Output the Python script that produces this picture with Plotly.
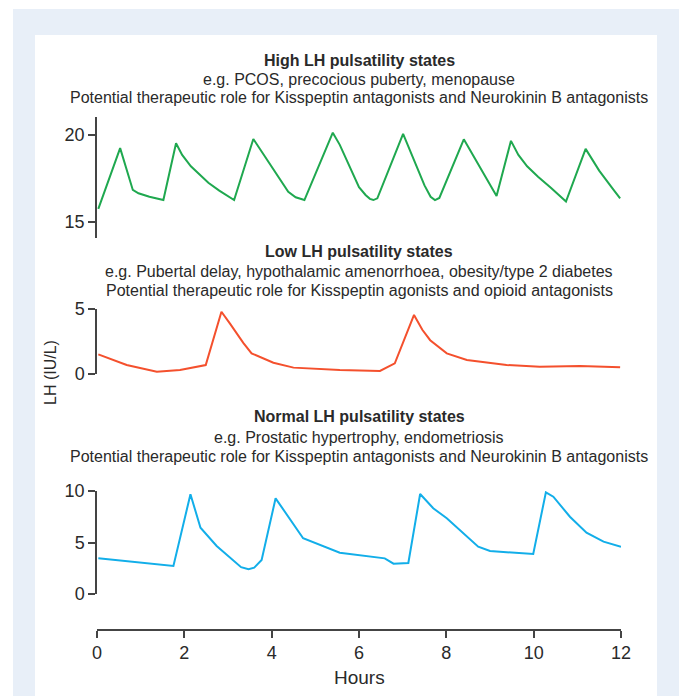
import plotly.graph_objects as go

W, H = 679, 696

# ---- data (hours, LH IU/L) ----
high_hours = [0.03, 0.53, 0.82, 0.95, 1.2, 1.52, 1.81, 1.95, 2.15, 2.35, 2.55, 2.8, 3.14,
              3.58, 4.0, 4.38, 4.55, 4.75, 5.40, 5.56, 6.0, 6.15, 6.25, 6.33, 6.42,
              7.01, 7.5, 7.64, 7.74, 7.84, 8.40, 9.15, 9.48, 9.65, 9.85, 10.1, 10.4,
              10.74, 11.19, 11.5, 11.8, 11.98]
high_lh = [15.75, 19.24, 16.84, 16.65, 16.45, 16.26, 19.52, 18.85, 18.2, 17.7, 17.25, 16.8, 16.26,
           19.77, 18.2, 16.74, 16.42, 16.26, 20.13, 19.43, 17.0, 16.55, 16.33, 16.26, 16.36,
           20.06, 17.1, 16.45, 16.26, 16.38, 19.75, 16.49, 19.66, 18.85, 18.2, 17.6, 16.95,
           16.17, 19.2, 17.95, 16.95, 16.36]

low_hours = [0.03, 0.68, 1.37, 1.90, 2.49, 2.85, 3.05, 3.2, 3.35, 3.54, 4.04, 4.50, 5.56, 6.48,
             6.82, 7.26, 7.45, 7.63, 8.01, 8.47, 9.38, 10.14, 11.06, 11.98]
low_lh = [1.51, 0.69, 0.18, 0.31, 0.69, 4.79, 3.85, 3.13, 2.4, 1.59, 0.87, 0.49, 0.31, 0.23,
          0.82, 4.54, 3.4, 2.6, 1.59, 1.08, 0.69, 0.56, 0.61, 0.51]

normal_hours = [0.03, 1.75, 2.14, 2.37, 2.74, 3.3, 3.47, 3.6, 3.77, 4.09, 4.72, 5.56,
                6.59, 6.79, 7.13, 7.40, 7.70, 8.01, 8.73, 9.0, 9.99, 10.28, 10.45,
                10.83, 11.21, 11.60, 12.0]
normal_lh = [3.46, 2.72, 9.68, 6.44, 4.66, 2.6, 2.40, 2.55, 3.30, 9.29, 5.41, 4.01,
             3.46, 2.94, 3.01, 9.71, 8.32, 7.35, 4.59, 4.17, 3.88, 9.87, 9.45,
             7.5, 5.95, 5.08, 4.59]

x_ticks = [0, 2, 4, 6, 8, 10, 12]

titles = {
    "high": ["<b>High LH pulsatility states</b>",
             "e.g. PCOS, precocious puberty, menopause",
             "Potential therapeutic role for Kisspeptin antagonists and Neurokinin B antagonists"],
    "low": ["<b>Low LH pulsatility states</b>",
            "e.g. Pubertal delay, hypothalamic amenorrhoea, obesity/type 2 diabetes",
            "Potential therapeutic role for Kisspeptin agonists and opioid antagonists"],
    "normal": ["<b>Normal LH pulsatility states</b>",
               "e.g. Prostatic hypertrophy, endometriosis",
               "Potential therapeutic role for Kisspeptin antagonists and Neurokinin B antagonists"],
}

GREEN = "#1fa84f"
RED = "#f4502d"
CYAN = "#12aee9"
TXT = "#2a2a2a"
AX = "#444444"
FONT = "Liberation Sans, Arial, sans-serif"


def px(xp):
    return xp / W


def py(yp):
    return 1 - yp / H


fig = go.Figure()
fig.add_trace(go.Scatter(x=high_hours, y=high_lh, mode="lines", line=dict(color=GREEN, width=2),
                         xaxis="x", yaxis="y", showlegend=False))
fig.add_trace(go.Scatter(x=low_hours, y=low_lh, mode="lines", line=dict(color=RED, width=2),
                         xaxis="x", yaxis="y2", showlegend=False))
fig.add_trace(go.Scatter(x=normal_hours, y=normal_lh, mode="lines", line=dict(color=CYAN, width=2),
                         xaxis="x", yaxis="y3", showlegend=False))

yax_common = dict(showgrid=False, zeroline=False, showline=True, linecolor=AX, linewidth=1.5,
                  ticks="outside", ticklen=7, tickwidth=1.5, tickcolor=AX, automargin=False,
                  tickfont=dict(family=FONT, size=18, color=TXT), anchor="x", fixedrange=True)

fig.update_layout(
    width=W, height=H,
    margin=dict(l=0, r=0, t=0, b=0, autoexpand=False),
    paper_bgcolor="white", plot_bgcolor="rgba(0,0,0,0)",
    xaxis=dict(domain=[px(97), px(621)], range=[0, 12], anchor="free", position=py(630),
               showgrid=False, zeroline=False, showline=True, linecolor=AX, linewidth=1.5,
               ticks="outside", ticklen=7, tickwidth=1.5, tickcolor=AX, automargin=False,
               tickvals=x_ticks, ticktext=[str(v) for v in x_ticks],
               tickfont=dict(family=FONT, size=18, color=TXT), fixedrange=True),
    yaxis=dict(domain=[py(238), py(117)], range=[14.08, 21.03], tickvals=[15, 20], **yax_common),
    yaxis2=dict(domain=[py(374), py(309)], range=[0, 5], tickvals=[0, 5], **yax_common),
    yaxis3=dict(domain=[py(594), py(491)], range=[0, 10], tickvals=[0, 5, 10], **yax_common),
    shapes=[
        dict(type="rect", xref="paper", yref="paper", x0=px(13), x1=1, y0=0, y1=py(9),
             fillcolor="#e8eff8", line=dict(width=0), layer="below"),
        dict(type="rect", xref="paper", yref="paper", x0=px(35), x1=px(657), y0=0, y1=py(35),
             fillcolor="white", line=dict(width=0), layer="below"),
    ],
)

ann = []
title_y = {"high": [60, 79, 98], "low": [251, 271, 290], "normal": [416, 437, 456]}
for key, lines in titles.items():
    for text, yp in zip(lines, title_y[key]):
        ann.append(dict(text=text, x=px(359), y=py(yp), xref="paper", yref="paper",
                        xanchor="center", yanchor="middle", showarrow=False,
                        font=dict(family=FONT, size=16, color=TXT)))
ann.append(dict(text="Hours", x=px(359), y=py(677), xref="paper", yref="paper",
                xanchor="center", yanchor="middle", showarrow=False,
                font=dict(family=FONT, size=19, color=TXT)))
ann.append(dict(text="LH (IU/L)", x=px(50), y=py(373), xref="paper", yref="paper",
                xanchor="center", yanchor="middle", showarrow=False, textangle=-90,
                font=dict(family=FONT, size=16, color=TXT)))
fig.update_layout(annotations=ann)

fig.write_html("out.html", config={"displayModeBar": False},
               post_script="document.body.style.margin='0px';")
